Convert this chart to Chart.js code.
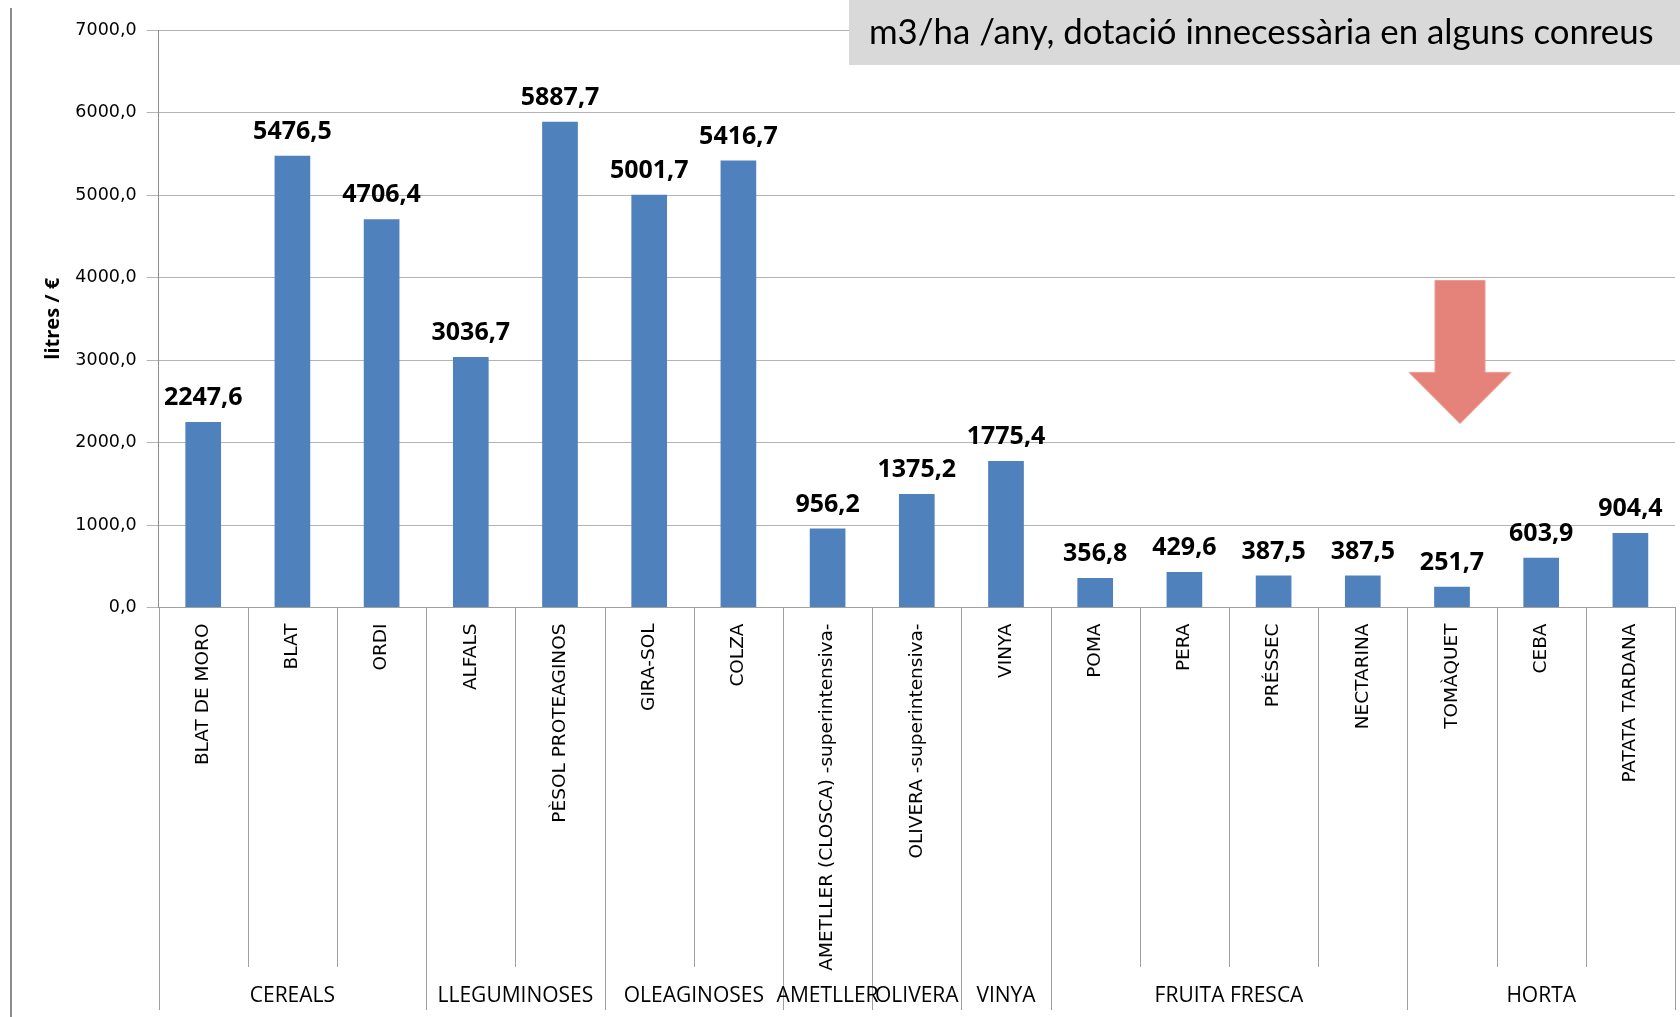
<!DOCTYPE html>
<html><head><meta charset="utf-8">
<script src="https://cdn.jsdelivr.net/npm/chart.js@4.4.1/dist/chart.umd.min.js"></script>
<style>html,body{margin:0;padding:0;background:#fff;overflow:hidden}canvas{display:block}</style>
</head><body>
<canvas id="c" width="1680" height="1017" style="width:1680px;height:1017px"></canvas>
<script>
// ---- data ----
const categories = ['BLAT DE MORO','BLAT','ORDI','ALFALS','PÈSOL PROTEAGINOS','GIRA-SOL','COLZA',
  'AMETLLER (CLOSCA) -superintensiva-','OLIVERA -superintensiva-','VINYA','POMA','PERA','PRÉSSEC',
  'NECTARINA','TOMÀQUET','CEBA','PATATA TARDANA'];
const values = [2247.6, 5476.5, 4706.4, 3036.7, 5887.7, 5001.7, 5416.7, 956.2, 1375.2, 1775.4,
  356.8, 429.6, 387.5, 387.5, 251.7, 603.9, 904.4];
const groupNames = ['CEREALS','LLEGUMINOSES','OLEAGINOSES','AMETLLER','OLIVERA','VINYA','FRUITA FRESCA','HORTA'];
const groupSizes = [3, 2, 2, 1, 1, 1, 4, 3];
const yMin = 0, yMax = 7000, yStep = 1000;
const yAxisTitle = 'litres / €';
const calloutText = 'm3/ha /any, dotació innecessària en alguns conreus';
const arrowCategory = 'TOMÀQUET';

const fmt = v => v.toFixed(1).replace('.', ',');

const decor = {
  id: 'decor',
  beforeDraw(chart) {
    const ctx = chart.ctx;
    ctx.save();
    ctx.fillStyle = '#fff';
    ctx.fillRect(0, 0, chart.width, chart.height);
    ctx.strokeStyle = '#8c8c8c';
    ctx.lineWidth = 2;
    ctx.beginPath(); ctx.moveTo(11, 8); ctx.lineTo(11, chart.height); ctx.stroke();
    ctx.restore();
  },
  afterDatasetsDraw(chart) {
    const ctx = chart.ctx;
    const meta = chart.getDatasetMeta(0);
    ctx.save();
    ctx.font = 'bold 25px "Open Sans"';
    ctx.fillStyle = '#000';
    ctx.textAlign = 'center';
    ctx.textBaseline = 'alphabetic';
    meta.data.forEach((bar, i) => {
      ctx.fillText(fmt(values[i]), bar.x, bar.y - 17);
    });
    ctx.restore();
  },
  afterDraw(chart) {
    const ctx = chart.ctx;
    const xs = chart.scales.x, ys = chart.scales.y;
    const area = chart.chartArea;
    const half = (xs.getPixelForValue(1) - xs.getPixelForValue(0)) / 2;
    const n = categories.length;
    const groupBounds = new Set([0]);
    let acc = 0;
    groupSizes.forEach(s => { acc += s; groupBounds.add(acc); });
    ctx.save();
    ctx.strokeStyle = '#a0a0a0';
    ctx.lineWidth = 1;
    for (let i = 0; i <= n; i++) {
      const bx = Math.round((i < n ? xs.getPixelForValue(i) - half : xs.getPixelForValue(n - 1) + half)) + 0.5;
      const yEnd = groupBounds.has(i) ? 1010 : 967;
      ctx.beginPath(); ctx.moveTo(bx, area.bottom); ctx.lineTo(bx, yEnd); ctx.stroke();
    }
    ctx.font = '21px "Liberation Sans Narrow", "Open Sans"';
    ctx.fillStyle = '#000';
    ctx.textAlign = 'center';
    ctx.textBaseline = 'middle';
    let start = 0;
    groupSizes.forEach((s, gi) => {
      const x0 = xs.getPixelForValue(start) - half;
      const x1 = xs.getPixelForValue(start + s - 1) + half;
      ctx.fillText(groupNames[gi], (x0 + x1) / 2, 996);
      start += s;
    });
    const ai = categories.indexOf(arrowCategory);
    const cx = xs.getPixelForValue(ai) + 8;
    const yTop = ys.getPixelForValue(4000) + 3;
    const yHead = ys.getPixelForValue(2850);
    const yTip = ys.getPixelForValue(2230);
    ctx.fillStyle = '#e5827a';
    ctx.strokeStyle = '#ec9a93';
    ctx.beginPath();
    ctx.moveTo(cx - 25, yTop); ctx.lineTo(cx + 25, yTop); ctx.lineTo(cx + 25, yHead);
    ctx.lineTo(cx + 51, yHead); ctx.lineTo(cx, yTip); ctx.lineTo(cx - 51, yHead);
    ctx.lineTo(cx - 25, yHead); ctx.closePath();
    ctx.fill(); ctx.stroke();
    ctx.fillStyle = '#d9d9d9';
    ctx.fillRect(849, 0, chart.width - 849, 65);
    ctx.fillStyle = '#000';
    ctx.textAlign = 'left';
    ctx.textBaseline = 'middle';
    ctx.font = '32px Lato';
    const w = ctx.measureText(calloutText).width;
    const fs = 32 * 784 / w;
    ctx.font = fs.toFixed(1) + 'px Lato';
    ctx.fillText(calloutText, 869, 33);
    ctx.restore();
  }
};

new Chart(document.getElementById('c'), {
  type: 'bar',
  data: {
    labels: categories,
    datasets: [{
      data: values,
      backgroundColor: '#4f81bd',
      borderWidth: 0,
      barPercentage: 0.4,
      categoryPercentage: 1.0
    }]
  },
  options: {
    responsive: false,
    devicePixelRatio: 1,
    animation: false,
    layout: { padding: { top: 30, right: 5, left: 0, bottom: 0 } },
    plugins: { legend: { display: false }, tooltip: { enabled: false } },
    scales: {
      x: {
        offset: true,
        grid: { display: false, drawTicks: false },
        border: { display: true, color: '#a0a0a0' },
        ticks: {
          autoSkip: false, maxRotation: 90, minRotation: 90, padding: 16,
          color: '#000', font: { family: '"DejaVu Sans"', size: 18.5 }
        },
        afterFit(scale) { scale.height = 409.5; }
      },
      y: {
        min: yMin, max: yMax,
        grid: { color: '#b4b4b4', tickLength: 12, drawTicks: true },
        border: { display: true, color: '#8c8c8c' },
        ticks: {
          stepSize: yStep, padding: 10, color: '#000',
          font: { family: '"DejaVu Sans"', size: 17.5 },
          callback: v => fmt(v)
        },
        title: {
          display: true, text: yAxisTitle, color: '#000',
          font: { family: '"Open Sans"', size: 20, weight: 'bold' },
          padding: { top: 41, bottom: 0 }
        },
        afterFit(scale) { scale.width = 158.6; }
      }
    }
  },
  plugins: [decor]
});
</script>
</body></html>
